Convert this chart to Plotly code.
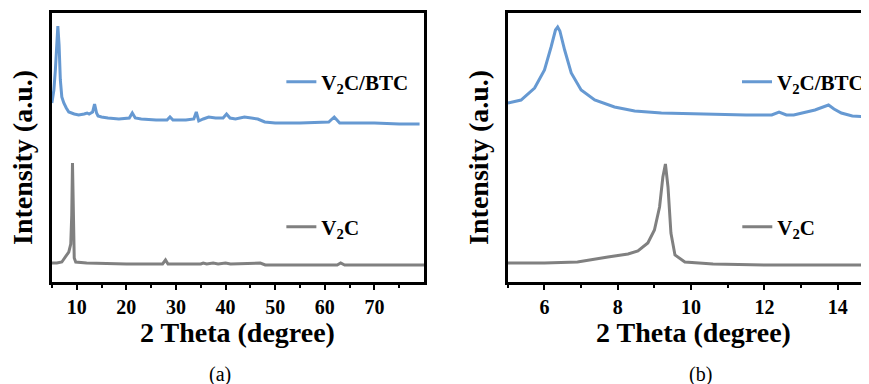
import plotly.graph_objects as go

# ---------------- data (a): wide scan ----------------
a_btc_x = [5.0, 5.4, 5.7, 5.95, 6.2, 6.45, 6.7, 7.0, 7.4, 7.9, 8.4, 9.5, 10.4, 11.5, 12.1, 12.5,
           13.2, 13.6, 14.0, 14.3, 15.0, 16.3, 18.5, 20.6, 21.2, 21.8, 23.0, 26.0, 28.2, 28.8, 29.4,
           32.0, 33.6, 34.1, 34.6, 35.5, 36.6, 38.0, 39.5, 40.2, 40.9, 42.0, 43.8, 45.2, 46.5, 47.9,
           50.0, 55.0, 60.8, 61.9, 63.0, 65.0, 70.0, 75.0, 79.1]
a_btc_y = [179, 192, 212, 242, 256, 237, 202, 185, 179, 174, 170, 168, 167, 168, 169, 168,
           170, 178, 169, 166, 165, 164, 163, 164, 169, 164, 163, 162, 162, 165, 162,
           162, 163, 170, 161, 163, 165, 164, 164, 168, 164, 163, 165, 164, 163, 160,
           159, 159, 160, 165, 159, 159, 159, 158, 158]

a_v2c_x = [5.0, 6.0, 7.0, 7.7, 8.4, 8.8, 9.0, 9.15, 9.3, 9.5, 9.8, 12.0, 20.0, 27.3, 27.9, 28.4,
           35.0, 35.5, 36.2, 37.5, 38.5, 40.0, 41.0, 45.5, 47.0, 48.0, 55.0, 62.5, 63.2, 64.0,
           70.0, 80.0]
a_v2c_y = [19, 19, 20, 25, 30, 38, 67, 119, 57, 24, 20, 19, 18, 18, 22, 18,
           18, 19, 18, 19, 18, 19, 18, 19, 19, 17, 17, 17, 19, 17,
           17, 17]

# ---------------- data (b): low-angle scan ----------------
b_btc_x = [5.0, 5.36, 5.73, 6.0, 6.18, 6.30, 6.36, 6.42, 6.55, 6.73, 7.0, 7.37, 7.91, 8.46,
           9.19, 10.1, 11.5, 12.2, 12.4, 12.6, 12.8, 13.38, 13.6, 13.75, 13.9, 14.1, 14.4, 14.8]
b_btc_y = [179, 182, 194, 212, 235, 252, 255, 251, 232, 209, 192, 182, 175, 171,
           169, 168, 167, 167, 170, 167, 167, 172, 175, 177, 173, 169, 166, 165]

b_v2c_x = [5.0, 6.0, 6.9, 7.37, 7.73, 8.28, 8.55, 8.82, 9.0, 9.14, 9.23, 9.30, 9.37, 9.45,
           9.56, 9.83, 10.6, 12.0, 14.8]
b_v2c_y = [19, 19, 20, 23, 25, 28, 31, 39, 52, 75, 105, 118, 95, 49,
           27, 20, 18, 17, 17]

a_ticks = [10, 20, 30, 40, 50, 60, 70]
b_ticks = [6, 8, 10, 12, 14]
name_btc = "<b>V<sub>2</sub>C/BTC</b>"
name_v2c = "<b>V<sub>2</sub>C</b>"

BLUE = "#6699D2"
GRAY = "#808080"
FONT = "Liberation Serif"

fig = go.Figure()
fig.add_trace(go.Scatter(x=a_btc_x, y=a_btc_y, mode="lines", name=name_btc,
                         line=dict(color=BLUE, width=3), xaxis="x", yaxis="y", legend="legend"))
fig.add_trace(go.Scatter(x=a_v2c_x, y=a_v2c_y, mode="lines", name=name_v2c,
                         line=dict(color=GRAY, width=3), xaxis="x", yaxis="y", legend="legend2"))
fig.add_trace(go.Scatter(x=b_btc_x, y=b_btc_y, mode="lines", name=name_btc,
                         line=dict(color=BLUE, width=3), xaxis="x2", yaxis="y2", legend="legend3"))
fig.add_trace(go.Scatter(x=b_v2c_x, y=b_v2c_y, mode="lines", name=name_v2c,
                         line=dict(color=GRAY, width=3), xaxis="x2", yaxis="y2", legend="legend4"))

# page body has an 8px margin: lay out in reference pixels shifted by OFF
OFF = 8
W, H = 869 - OFF, 384 - OFF


def px(x):
    return (x - OFF) / W


def py(y):
    return 1 - (y - OFF) / H


ydom = [py(282), py(13)]
tickfont = dict(family=FONT, size=20, color="black")

common_x = dict(showline=True, linecolor="black", linewidth=2.5, ticks="outside", ticklen=5,
                tickwidth=1.5, tickcolor="black", showgrid=False, zeroline=False,
                tickfont=tickfont)
common_y = dict(showline=True, linecolor="black", linewidth=2.5, showticklabels=False,
                ticks="", showgrid=False, zeroline=False, range=[0, 269])

fig.update_layout(
    width=W, height=H,
    margin=dict(l=0, r=0, t=0, b=0),
    paper_bgcolor="white", plot_bgcolor="white",
    xaxis=dict(domain=[px(52), px(425)], range=[5, 80], tickvals=a_ticks,
               ticktext=["<b>%d</b>" % t for t in a_ticks], anchor="y",
               mirror=True, minor=dict(ticks="outside", ticklen=3, dtick=10, tick0=5,
                                       tickcolor="black", tickwidth=1.5),
               **common_x),
    yaxis=dict(domain=ydom, anchor="x", mirror=True, **common_y),
    xaxis2=dict(domain=[px(509), 1.0], range=[5, 14.8], tickvals=b_ticks,
                ticktext=["<b>%d</b>" % t for t in b_ticks], anchor="y2",
                mirror=True, minor=dict(ticks="outside", ticklen=3, dtick=2, tick0=5,
                                        tickcolor="black", tickwidth=1.5),
                **common_x),
    yaxis2=dict(domain=ydom, anchor="x2", mirror=False, **common_y),
    showlegend=True,
)

legfont = dict(family=FONT, size=21, color="black")
leg_common = dict(font=legfont, bgcolor="rgba(0,0,0,0)", borderwidth=0, xanchor="left",
                  yanchor="middle", itemwidth=30, tracegroupgap=0)
fig.update_layout(
    legend=dict(x=px(282), y=py(82), **leg_common),
    legend2=dict(x=px(282), y=py(227), **leg_common),
    legend3=dict(x=px(739), y=py(82), **leg_common),
    legend4=dict(x=px(739), y=py(227), **leg_common),
)

title_font = dict(family=FONT, size=28, color="black")
cap_font = dict(family=FONT, size=20, color="black")
ann = [
    dict(text="<b>2 Theta (degree)</b>", x=px(238), y=py(332), font=title_font),
    dict(text="<b>2 Theta (degree)</b>", x=px(695), y=py(332), font=title_font),
    dict(text="<b>Intensity (a.u.)</b>", x=px(23), y=py(157), font=title_font, textangle=-90),
    dict(text="<b>Intensity (a.u.)</b>", x=px(480), y=py(157), font=title_font, textangle=-90),
    dict(text="(a)", x=px(220), y=py(374), font=cap_font),
    dict(text="(b)", x=px(702), y=py(374), font=cap_font),
]
for a in ann:
    a.update(xref="paper", yref="paper", showarrow=False, xanchor="center", yanchor="middle")
fig.update_layout(annotations=ann)

fig.write_html("out.html")
